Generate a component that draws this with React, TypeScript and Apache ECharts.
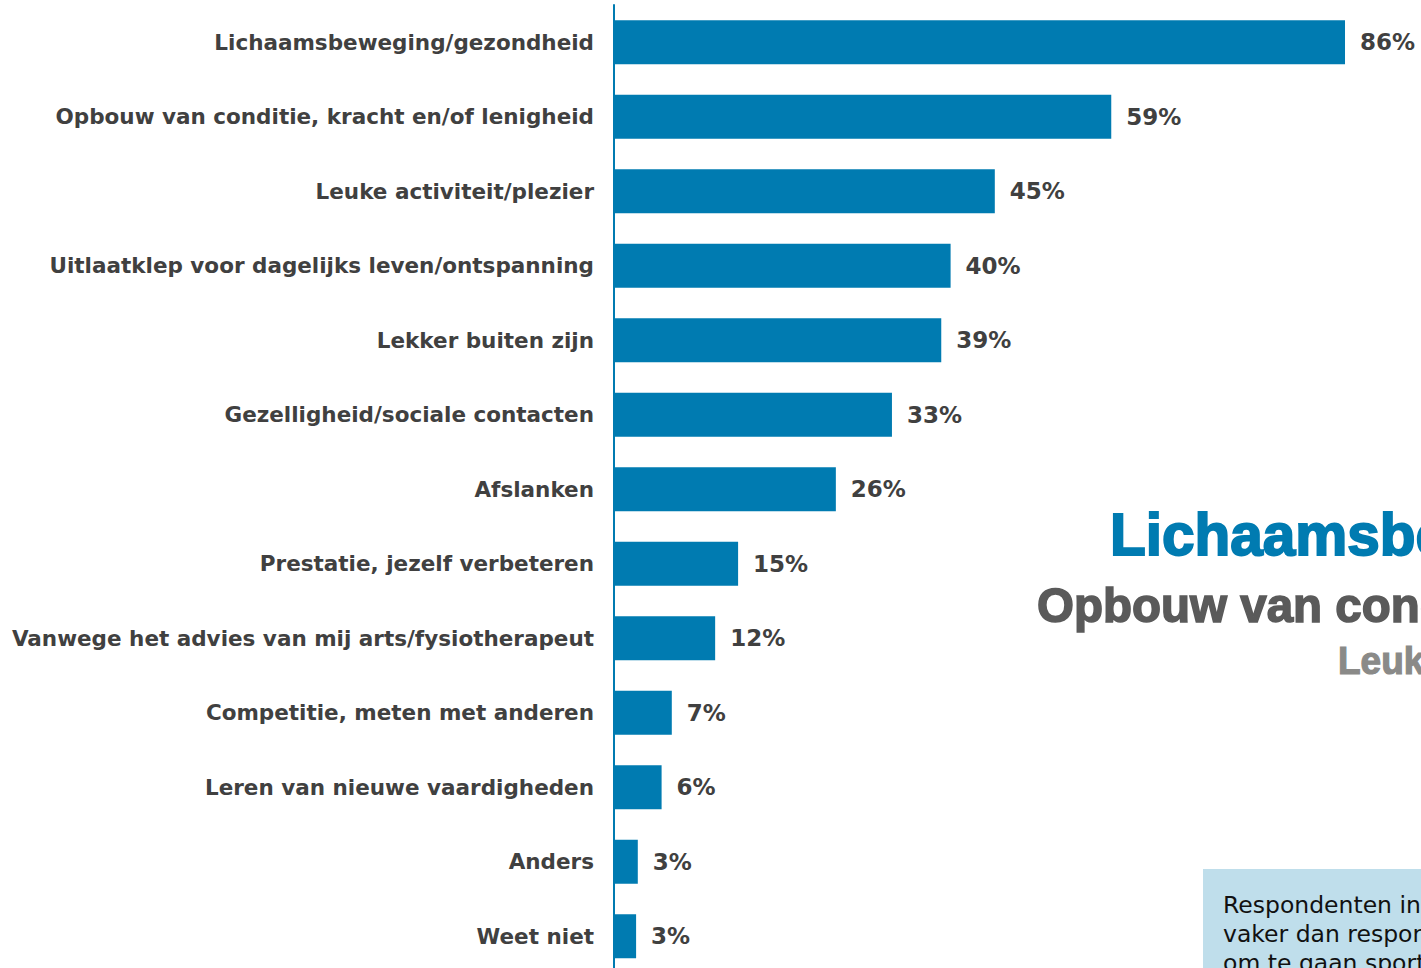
import React, { useEffect, useRef } from "react";
import * as echarts from "echarts";

const categories = [
  "Lichaamsbeweging/gezondheid",
  "Opbouw van conditie, kracht en/of lenigheid",
  "Leuke activiteit/plezier",
  "Uitlaatklep voor dagelijks leven/ontspanning",
  "Lekker buiten zijn",
  "Gezelligheid/sociale contacten",
  "Afslanken",
  "Prestatie, jezelf verbeteren",
  "Vanwege het advies van mij arts/fysiotherapeut",
  "Competitie, meten met anderen",
  "Leren van nieuwe vaardigheden",
  "Anders",
  "Weet niet",
];
const values = [86, 58.5, 44.8, 39.6, 38.5, 32.7, 26.1, 14.6, 11.9, 6.8, 5.6, 2.8, 2.6];
const labels = ["86%", "59%", "45%", "40%", "39%", "33%", "26%", "15%", "12%", "7%", "6%", "3%", "3%"];

const cloudWords = [
  "Lichaamsbeweging/gezondheid",
  "Opbouw van conditie, kracht en/of lenigheid",
  "Leuke activiteit/plezier",
];
const noteLines = ["Respondenten in", "vaker dan respondenten", "om te gaan sporten"];

const BLUE = "#007BB1";
const TEXT = "#404040";

export default function App() {
  const ref = useRef<HTMLDivElement>(null);
  useEffect(() => {
    if (!ref.current) return;
    const chart = echarts.init(ref.current, null, { renderer: "svg" });
    chart.setOption({
      animation: false,
      grid: { left: 614, top: 5, right: 0, height: 968.5 },
      xAxis: { type: "value", min: 0, max: 94.94, show: false },
      yAxis: {
        type: "category",
        data: categories,
        inverse: true,
        axisTick: { show: false },
        axisLine: { show: true, lineStyle: { color: BLUE, width: 2 } },
        axisLabel: {
          margin: 20,
          fontSize: 21.5,
          fontWeight: "bold",
          fontFamily: "DejaVu Sans",
          color: TEXT,
        },
      },
      series: [
        {
          type: "bar",
          data: values,
          barWidth: 44,
          itemStyle: { color: BLUE },
          label: {
            show: true,
            position: "right",
            distance: 15,
            fontSize: 23,
            fontWeight: "bold",
            fontFamily: "DejaVu Sans",
            color: TEXT,
            formatter: (p: any) => labels[p.dataIndex],
          },
        },
      ],
      graphic: [
        {
          type: "text",
          x: 1110,
          y: 534,
          scaleX: 0.975,
          style: {
            text: cloudWords[0],
            fontSize: 60,
            fontWeight: "bold",
            fontFamily: "Liberation Sans",
            fill: BLUE,
            stroke: BLUE,
            lineWidth: 2,
            verticalAlign: "middle",
            align: "left",
          },
        },
        {
          type: "text",
          x: 1037,
          y: 605,
          scaleX: 0.97,
          style: {
            text: cloudWords[1],
            fontSize: 49,
            fontWeight: "bold",
            fontFamily: "Liberation Sans",
            fill: "#5A5A5A",
            stroke: "#5A5A5A",
            lineWidth: 1.6,
            verticalAlign: "middle",
            align: "left",
          },
        },
        {
          type: "text",
          x: 1338,
          y: 661,
          scaleX: 0.95,
          style: {
            text: cloudWords[2],
            fontSize: 39,
            fontWeight: "bold",
            fontFamily: "Liberation Sans",
            fill: "#8A8A88",
            stroke: "#8A8A88",
            lineWidth: 1.2,
            verticalAlign: "middle",
            align: "left",
          },
        },
        {
          type: "rect",
          shape: { x: 1203, y: 869, width: 240, height: 130 },
          style: { fill: "#BFDEEB" },
        },
        ...noteLines.map((t, i) => ({
          type: "text",
          x: 1223,
          y: 905 + i * 29,
          style: {
            text: t,
            fontSize: 23.5,
            fontFamily: "DejaVu Sans",
            fill: "#111111",
            verticalAlign: "middle",
            align: "left",
          },
        })),
      ],
    });
    return () => chart.dispose();
  }, []);
  return (
    <div
      style={{
        position: "fixed",
        left: 0,
        top: 0,
        width: 1421,
        height: 968,
        overflow: "hidden",
        background: "#fff",
      }}
    >
      <div ref={ref} style={{ width: 1421, height: 985 }} />
    </div>
  );
}
